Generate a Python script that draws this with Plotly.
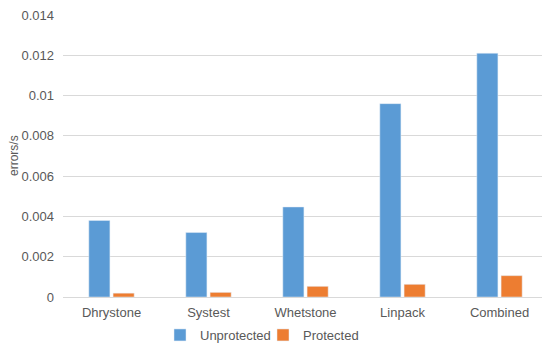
import plotly.graph_objects as go

categories = ["Dhrystone", "Systest", "Whetstone", "Linpack", "Combined"]
unprotected = [0.0038, 0.0032, 0.00447, 0.0096, 0.0121]
protected = [0.00019, 0.00023, 0.00053, 0.00063, 0.00106]
y_ticks = [0, 0.002, 0.004, 0.006, 0.008, 0.01, 0.012, 0.014]
y_tick_labels = ["0", "0.002", "0.004", "0.006", "0.008", "0.01", "0.012", "0.014"]

W, H = 542, 341  # page body has an 8px offset
L, T, R, B = 55, 7, 2, 52

fig = go.Figure()
fig.add_trace(go.Bar(x=categories, y=unprotected, name="Unprotected", marker_color="#5B9BD5",
                     legend="legend"))
fig.add_trace(go.Bar(x=categories, y=protected, name="Protected", marker_color="#ED7D31",
                     legend="legend2"))

leg_common = dict(orientation="h", xanchor="left", xref="container", yref="container",
                  y=14 / H, yanchor="middle", font=dict(size=13), itemwidth=30,
                  bgcolor="rgba(0,0,0,0)")

fig.update_layout(
    width=W, height=H,
    margin=dict(l=L, r=R, t=T, b=B, autoexpand=False),
    paper_bgcolor="white", plot_bgcolor="white",
    font=dict(family="Liberation Sans, Arial, sans-serif", size=13, color="#595959"),
    barmode="group", bargap=0.5, bargroupgap=0.13,
    legend=dict(x=152 / W, **leg_common),
    legend2=dict(x=255 / W, **leg_common),
    showlegend=True,
    annotations=[dict(text="errors/s", textangle=-90, xref="paper", yref="paper",
                      x=(6 - L) / (W - L - R), y=0.5, xanchor="center", yanchor="middle",
                      showarrow=False, font=dict(size=12, color="#595959"))],
)
fig.update_yaxes(range=[0, 0.014], tickvals=y_ticks, ticktext=y_tick_labels,
                 showgrid=True, gridcolor="#D9D9D9", gridwidth=1, zeroline=False,
                 showline=False, ticks="", ticklen=0, ticklabelstandoff=8,
                 ticklabeloverflow="allow", automargin=False)
fig.update_xaxes(showline=True, linecolor="#D9D9D9", ticks="", tickfont=dict(size=13),
                 ticklabelstandoff=3, automargin=False)

fig.write_html("out.html")
